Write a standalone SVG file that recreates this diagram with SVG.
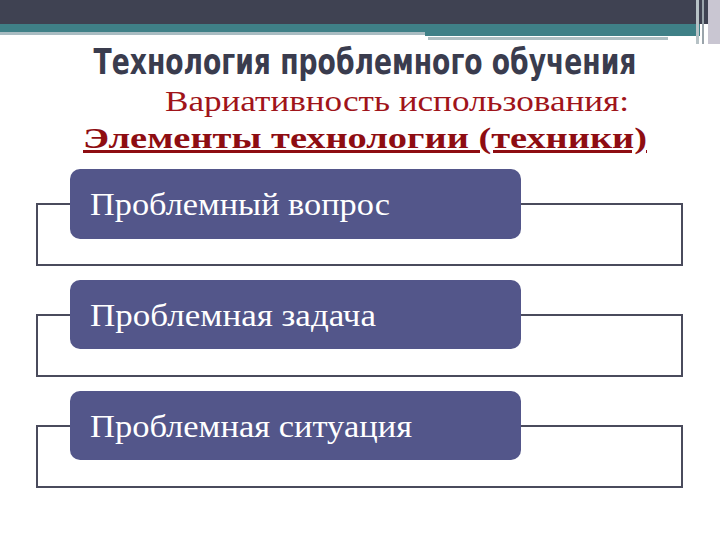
<svg xmlns="http://www.w3.org/2000/svg" width="720" height="540" viewBox="0 0 720 540">
<style>
.frame{fill:none;stroke:#4a4b5c;stroke-width:2}
.box{fill:#53568a}
.lbl{font-family:"Liberation Serif","DejaVu Serif",serif;font-size:32px;fill:#ffffff}
</style>
<rect width="720" height="540" fill="#ffffff"/>
<g id="header">
<rect x="0" y="0" width="720" height="24" fill="#3f4252"/>
<rect x="0" y="24" width="700" height="9" fill="#3f8087"/>
<rect x="0" y="32" width="425" height="3" fill="#a9bcc2"/>
<rect x="425" y="32" width="275" height="4" fill="#3f8087"/>
<rect x="428" y="37" width="240" height="3" fill="#aebfc3"/>
<rect x="696" y="0" width="3" height="44" fill="#b7c2c6"/>
<rect x="702" y="0" width="2" height="44" fill="#9aa4ab"/>
<rect x="708" y="0" width="12" height="44" fill="#c9c6d2"/>
</g>
<g id="titles">
<text transform="translate(365,74) scale(0.845,1)" x="0" y="0" text-anchor="middle" font-family="'Liberation Sans Narrow','DejaVu Sans Condensed','Liberation Sans',sans-serif" font-weight="bold" font-size="35" fill="#3a3c4e">Технология проблемного обучения</text>
<text x="397" y="111" text-anchor="middle" font-family="'Liberation Serif',serif" font-size="30" fill="#a0141a" textLength="464" lengthAdjust="spacingAndGlyphs">Вариативность использования:</text>
<text x="365" y="148" text-anchor="middle" font-family="'Liberation Serif',serif" font-weight="bold" font-size="30" fill="#8e0d12" text-decoration="underline" textLength="564" lengthAdjust="spacingAndGlyphs">Элементы технологии (техники)</text>
</g>
<g id="connectors">
<path class="frame" d="M70 204 H37 V265 H682 V204 H521"/>
<path class="frame" d="M70 315 H37 V376 H682 V315 H521"/>
<path class="frame" d="M70 426 H37 V487 H682 V426 H521"/>
</g>
<g id="node1">
<rect class="box" x="70" y="169" width="451" height="70" rx="10"/>
<text class="lbl" x="90" y="215" textLength="300" lengthAdjust="spacingAndGlyphs">Проблемный вопрос</text>
</g>
<g id="node2">
<rect class="box" x="70" y="280" width="451" height="69" rx="10"/>
<text class="lbl" x="90" y="326" textLength="286" lengthAdjust="spacingAndGlyphs">Проблемная задача</text>
</g>
<g id="node3">
<rect class="box" x="70" y="391" width="451" height="69" rx="10"/>
<text class="lbl" x="90" y="437" textLength="322" lengthAdjust="spacingAndGlyphs">Проблемная ситуация</text>
</g>
</svg>
